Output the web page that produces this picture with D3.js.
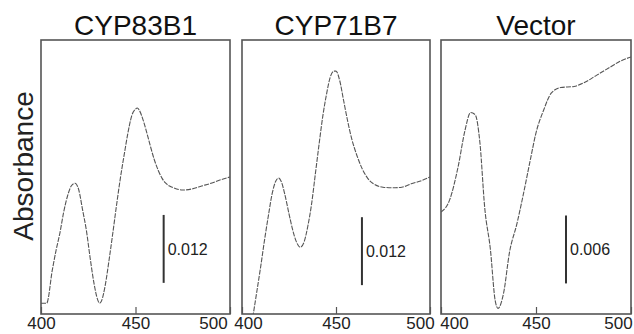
<!DOCTYPE html>
<html>
<head>
<meta charset="utf-8">
<script src="https://cdn.jsdelivr.net/npm/d3@7"></script>
<style>
  html, body { margin: 0; padding: 0; background: #fff; }
  svg { display: block; font-family: "Liberation Sans", Arial, sans-serif; }
</style>
</head>
<body>
<svg id="chart" width="634" height="334"></svg>
<script>
// Difference spectra, wavelength (nm) vs absorbance
const titles = ["CYP83B1", "CYP71B7", "Vector"];
const xTicks = [400, 450, 500];

const nm83b1 = [400, 403, 406, 408, 410, 412, 414, 416, 418, 420, 422, 424, 426, 428, 430, 431, 432, 434, 436, 438, 440, 442, 444, 446, 448, 450, 451, 452, 454, 456, 458, 460, 462, 464, 466, 468, 470, 475, 480, 485, 490, 495, 500];
const abs83b1 = [0.0019, 0.0019, 0.0078, 0.0113, 0.0143, 0.0180, 0.0208, 0.0226, 0.0231, 0.0219, 0.0184, 0.0148, 0.0099, 0.0055, 0.0025, 0.0019, 0.0023, 0.0051, 0.0095, 0.0143, 0.0193, 0.0240, 0.0281, 0.0320, 0.0350, 0.0362, 0.0364, 0.0360, 0.0343, 0.0320, 0.0295, 0.0272, 0.0254, 0.0240, 0.0231, 0.0226, 0.0223, 0.0219, 0.0221, 0.0226, 0.0231, 0.0237, 0.0242];

const nm71b7 = [400, 402, 404, 406, 408, 410, 412, 414, 416, 418, 419.5, 421, 423, 425, 427, 429, 431, 433, 435, 437, 439, 441, 443, 445, 447, 449, 450, 452, 454, 456, 458, 460, 462, 464, 466, 468, 470, 475, 480, 485, 490, 495, 500];
const abs71b7 = [-0.0125, -0.0083, -0.0041, 0.0000, 0.0042, 0.0085, 0.0131, 0.0173, 0.0212, 0.0235, 0.0240, 0.0233, 0.0208, 0.0177, 0.0148, 0.0127, 0.0118, 0.0127, 0.0155, 0.0194, 0.0247, 0.0300, 0.0350, 0.0389, 0.0419, 0.0429, 0.0429, 0.0412, 0.0378, 0.0344, 0.0314, 0.0291, 0.0272, 0.0256, 0.0244, 0.0235, 0.0230, 0.0224, 0.0223, 0.0224, 0.0230, 0.0235, 0.0242];

const nmVector = [400, 404.6, 409, 412.6, 415.6, 418, 420.5, 423, 426, 428.5, 430, 433, 436, 440, 443, 447, 450, 454, 458, 463, 470, 475, 482, 489, 494, 500];
const absVector = [0.0090, 0.0101, 0.0130, 0.0162, 0.0178, 0.0176, 0.0151, 0.0094, 0.0057, 0.0012, 0.0005, 0.0019, 0.0054, 0.0080, 0.0103, 0.0136, 0.0160, 0.0180, 0.0195, 0.0200, 0.0201, 0.0204, 0.0211, 0.0218, 0.0223, 0.0227];

const yMax = [0.0484, 0.0484, 0.0242];
const barSize = [0.012, 0.012, 0.006];
const barBase = [0.0055, 0.0051, 0.0027];
const barNm = [464.9, 463.8, 465.8];
const barLabels = ["0.012", "0.012", "0.006"];

const series = [
  { nm: nm83b1, abs: abs83b1 },
  { nm: nm71b7, abs: abs71b7 },
  { nm: nmVector, abs: absVector },
];

// layout
const panelLeft = [41, 242, 441];
const panelWidth = [189, 188, 190];
const plotTop = 40;
const plotBottom = 314;
const firstLabelDx = [0, 6, 13];
const lastLabelDx = [-17, -10, -13];

const svg = d3.select("#chart");

svg.append("text")
  .attr("transform", `translate(33, 166) rotate(-90)`)
  .attr("text-anchor", "middle")
  .attr("font-size", 28)
  .attr("fill", "#222")
  .text("Absorbance");

titles.forEach((title, i) => {
  const left = panelLeft[i];
  const w = panelWidth[i];
  const x = d3.scaleLinear().domain([400, 500]).range([left, left + w]);
  const y = d3.scaleLinear().domain([0, yMax[i]]).range([plotBottom, plotTop]);

  const g = svg.append("g");

  g.append("clipPath").attr("id", `clip${i}`)
    .append("rect")
    .attr("x", left).attr("y", plotTop)
    .attr("width", w).attr("height", plotBottom - plotTop);

  // Title
  g.append("text")
    .attr("x", left + w / 2)
    .attr("y", 35)
    .attr("text-anchor", "middle")
    .attr("font-size", 28)
    .attr("fill", "#111")
    .text(title);

  // Spectrum
  const s = series[i];
  const pts = s.nm.map((d, j) => [d, s.abs[j]]);
  g.append("path")
    .datum(pts)
    .attr("clip-path", `url(#clip${i})`)
    .attr("fill", "none")
    .attr("stroke", "#555")
    .attr("stroke-width", 1.1)
    .attr("stroke-dasharray", "5,1.2")
    .attr("d", d3.line().x((d) => x(d[0])).y((d) => y(d[1])).curve(d3.curveMonotoneX));

  // Scale bar
  g.append("line")
    .attr("x1", x(barNm[i])).attr("x2", x(barNm[i]))
    .attr("y1", y(barBase[i])).attr("y2", y(barBase[i] + barSize[i]))
    .attr("stroke", "#333")
    .attr("stroke-width", 2);
  g.append("text")
    .attr("x", x(barNm[i]) + 4)
    .attr("y", y(barBase[i] + barSize[i] / 2))
    .attr("dy", "0.36em")
    .attr("font-size", 16)
    .attr("fill", "#222")
    .text(barLabels[i]);

  // Axis
  const axis = g.append("g")
    .attr("transform", `translate(0, ${plotBottom})`)
    .call(d3.axisBottom(x).tickValues(xTicks).tickSizeInner(-7).tickSizeOuter(0).tickPadding(3));
  axis.select(".domain").remove();
  axis.selectAll(".tick line").attr("stroke", "#555").attr("stroke-width", 1.2);
  axis.selectAll(".tick text")
    .attr("font-size", 17)
    .attr("font-family", "Liberation Sans, Arial, sans-serif")
    .attr("fill", "#222")
    .attr("dx", (d) => (d === 400 ? firstLabelDx[i] : d === 500 ? lastLabelDx[i] : 0));

  // Frame
  g.append("rect")
    .attr("x", left).attr("y", plotTop)
    .attr("width", w).attr("height", plotBottom - plotTop)
    .attr("fill", "none")
    .attr("stroke", "#555")
    .attr("stroke-width", 1.6);
});
</script>
</body>
</html>
